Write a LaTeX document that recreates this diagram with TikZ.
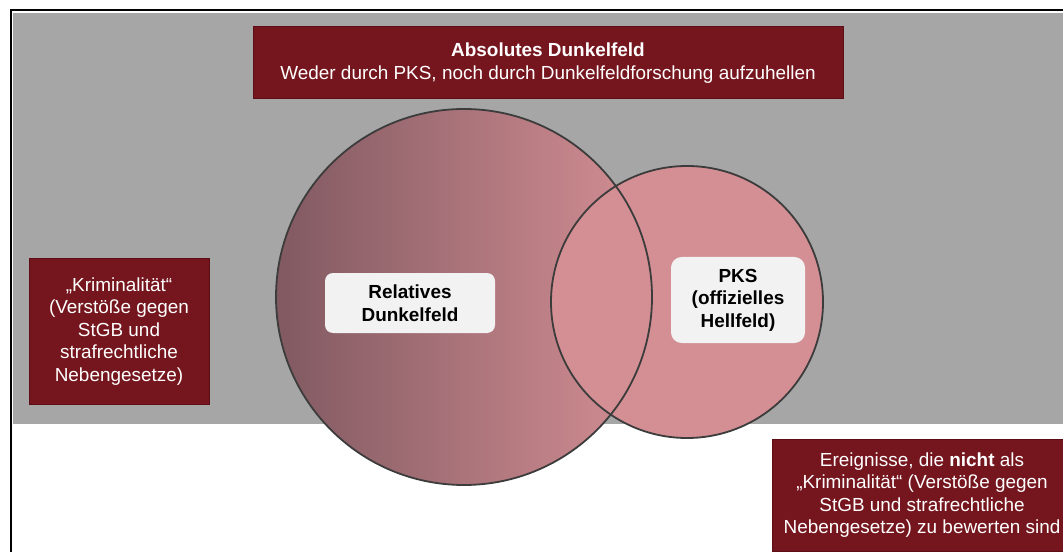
\documentclass[tikz,border=0pt]{standalone}
\usepackage{fontspec}
\setmainfont{Liberation Sans}
\begin{document}
\definecolor{boxred}{RGB}{117,22,30}
\definecolor{boxedge}{RGB}{92,14,22}
\definecolor{bggray}{RGB}{166,166,166}
\definecolor{pinklight}{RGB}{212,143,148}
\definecolor{pinkmid}{RGB}{178,121,126}
\definecolor{pinkdark}{RGB}{129,89,97}
\definecolor{ringline}{RGB}{60,60,60}
\definecolor{labelfill}{RGB}{242,242,242}
\begin{tikzpicture}[x=0.75pt,y=-0.75pt,
  txt/.style={font=\fontsize{14.2}{16.9}\selectfont, align=center, inner sep=0pt},
  redbox/.style={txt, fill=boxred, draw=boxedge, line width=0.75pt, text=white},
  labelbox/.style={txt, fill=labelfill, rounded corners=6pt, text=black, font=\fontsize{14.2}{16.9}\selectfont\bfseries},
  ring/.style={draw=ringline, line width=1.35pt}]
\useasboundingbox (0,0) rectangle (1063,552);
\clip (0,0) rectangle (1063,552);
\fill[white] (0,0) rectangle (1063,552);
% grey field of all events considered
\fill[bggray] (12.5,13) rectangle (1070,424);
% outer frame
\draw[black, line width=1.5pt] (10.5,600) -- (10.5,10.5) -- (1070,10.5);

% the two sets: relative dark field and the police statistics
\shade[left color=pinkdark, middle color=pinkmid, right color=pinklight] (464,297) circle[radius=188];
\fill[pinklight] (687,302) circle[radius=136];
\draw[ring] (464,297) circle[radius=188];
\draw[ring] (687,302) circle[radius=136];

% labels
\node[redbox, minimum width=442.5pt, minimum height=54pt] (absolut) at (548,63)
  {\textbf{Absolutes Dunkelfeld}\\Weder durch PKS, noch durch Dunkelfeldforschung aufzuhellen};
\node[redbox, minimum width=135pt, minimum height=108.75pt] (krim) at (119,331.5)
  {„Kriminalität“\\(Verstöße gegen\\StGB und\\strafrechtliche\\Nebengesetze)};
\node[redbox, minimum width=225pt, minimum height=84pt] (ereig) at (922,495)
  {Ereignisse, die \textbf{nicht} als\\„Kriminalität“ (Verstöße gegen\\StGB und strafrechtliche\\Nebengesetze) zu bewerten sind};
\node[labelbox, minimum width=127.5pt, minimum height=45pt] (relativ) at (410,303)
  {Relatives\\Dunkelfeld};
\node[labelbox, rounded corners=8pt, minimum width=100.5pt, minimum height=64.5pt] (pks) at (738,300)
  {PKS\\(offizielles\\Hellfeld)};
\end{tikzpicture}
\end{document}
